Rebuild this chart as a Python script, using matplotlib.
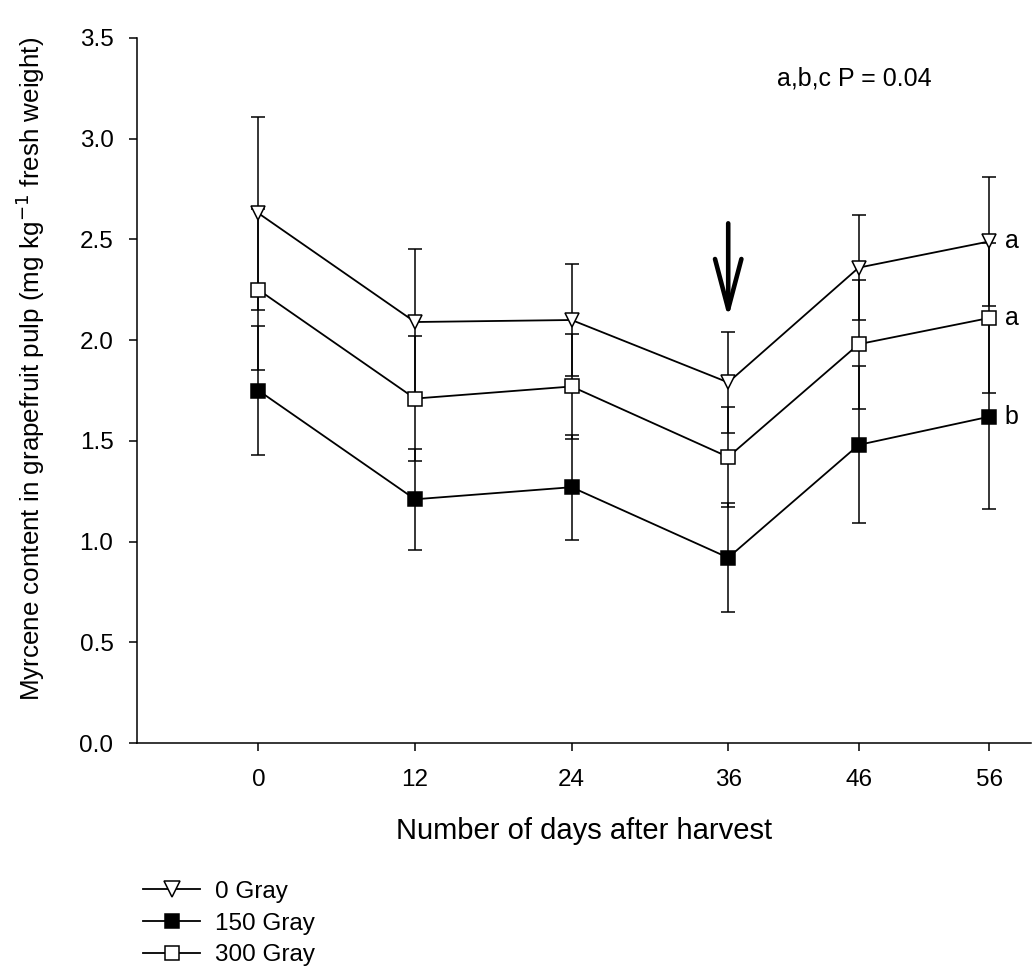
import numpy as np
import matplotlib.pyplot as plt

plt.rcParams['font.family'] = ['Liberation Sans', 'DejaVu Sans']

days = [0, 12, 24, 36, 46, 56]

gray0 = [2.63, 2.09, 2.10, 1.79, 2.36, 2.49]
gray0_err = [0.48, 0.36, 0.28, 0.25, 0.26, 0.32]

gray150 = [1.75, 1.21, 1.27, 0.92, 1.48, 1.62]
gray150_err = [0.32, 0.25, 0.26, 0.27, 0.39, 0.46]

gray300 = [2.25, 1.71, 1.77, 1.42, 1.98, 2.11]
gray300_err = [0.40, 0.31, 0.26, 0.25, 0.32, 0.37]

letters = ['a', 'b', 'a']   # 0 Gray, 150 Gray, 300 Gray at day 56

fig = plt.figure(figsize=(10.32, 9.69), dpi=100)
ax = fig.add_axes([0.1328, 0.2332, 0.8662, 0.7276])

series = [
    (gray0, gray0_err, 'v', 'white', '0 Gray'),
    (gray150, gray150_err, 's', 'black', '150 Gray'),
    (gray300, gray300_err, 's', 'white', '300 Gray'),
]

for vals, err, mk, fc, lab in series:
    ax.errorbar(days, vals, yerr=err, fmt='none', ecolor='black',
                elinewidth=1.1, capsize=5, capthick=1.1, zorder=2)
    ax.plot(days, vals, color='black', lw=1.3, marker=mk, ms=10.5 if mk == 'v' else 9.5,
            mfc=fc, mec='black', mew=1.1, zorder=3, label=lab)

for vals, let in zip([gray0, gray150, gray300], letters):
    ax.text(days[-1] + 1.2, vals[-1], let, fontsize=18, va='center', ha='left')

ax.annotate('', xy=(36, 2.11), xytext=(36, 2.58),
            arrowprops=dict(arrowstyle='->,head_length=3.6,head_width=0.95',
                            mutation_scale=10, lw=3.3, color='black',
                            shrinkA=0, shrinkB=0))

ax.text(45.7, 3.30, 'a,b,c P = 0.04', fontsize=18, ha='center', va='center')

ax.set_xlim(-9.3, 59.2)
ax.set_ylim(0, 3.5)
ax.set_xticks(days)
ax.set_yticks(np.arange(0, 3.51, 0.5))
ax.set_yticklabels(['%.1f' % v for v in np.arange(0, 3.51, 0.5)])
ax.spines['top'].set_visible(False)
ax.spines['right'].set_visible(False)
ax.tick_params(direction='out', length=6, width=1.1, labelsize=17.5, pad=11)
ax.tick_params(axis='x', pad=13)
ax.spines['left'].set_linewidth(1.1)
ax.spines['bottom'].set_linewidth(1.1)

ax.set_xlabel('Number of days after harvest', fontsize=21, va='top')
ax.xaxis.set_label_coords(0.5, -0.105)
ax.set_ylabel('Myrcene content in grapefruit pulp (mg kg$^{-1}$ fresh weight)',
              fontsize=18.7, va='center')
ax.yaxis.set_label_coords(-0.12, 0.53)

handles, labels = ax.get_legend_handles_labels()
fig.legend(handles, labels, loc='upper left', bbox_to_anchor=(0.1386, 0.091), frameon=False,
           fontsize=17.5, handlelength=2.35, labelspacing=0.4, handletextpad=0.62,
           borderpad=0, borderaxespad=0, markerscale=1.05)

fig.savefig('out.png', dpi=100)
